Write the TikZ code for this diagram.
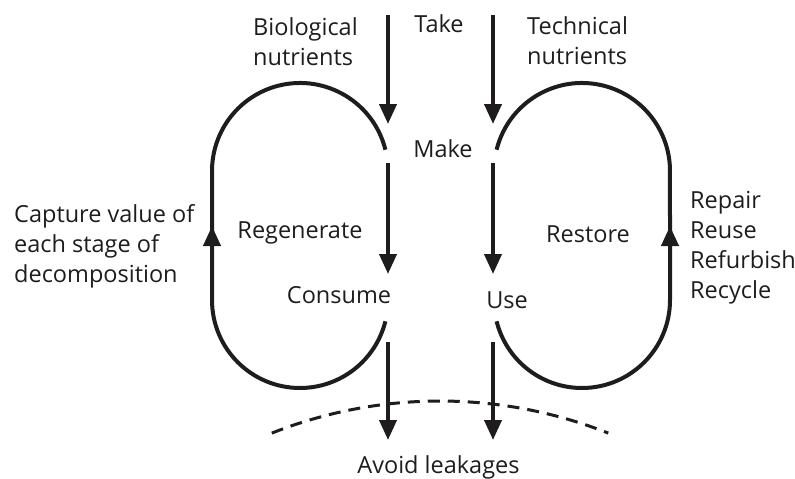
\documentclass[tikz,border=0pt]{standalone}
\usepackage{fontspec}
\setmainfont{Open Sans}
\usetikzlibrary{arrows.meta}
\definecolor{ink}{RGB}{30,28,28}
\begin{document}
\begin{tikzpicture}[x=1pt,y=-1pt,
  txt/.style={inner sep=0pt,text=ink,font=\fontsize{23.5}{30}\selectfont},
  flow/.style={draw=ink,line width=4pt,-{Triangle[length=20pt,width=17pt]}},
  loopline/.style={draw=ink,line width=4pt},
  sidearrow/.style={draw=ink,line width=4pt,-{Triangle[length=20pt,width=17pt]}},
  leak/.style={draw=ink,line width=3pt,dash pattern=on 12pt off 8pt}]
\useasboundingbox (0,0) rectangle (795,479);
% texts
\node[txt,anchor=base] (take) at (439,32) {Take};
\node[txt,anchor=base west] (bio) at (253,35) {\begin{tabular}[t]{@{}l@{}}Biological\\nutrients\end{tabular}};
\node[txt,anchor=base west] (tech) at (527,34) {\begin{tabular}[t]{@{}l@{}}Technical\\nutrients\end{tabular}};
\node[txt,anchor=base] (make) at (443,157) {Make};
\node[txt,anchor=base] (regen) at (300,238) {Regenerate};
\node[txt,anchor=base] (restore) at (588,242) {Restore};
\node[txt,anchor=base] (consume) at (339,303) {Consume};
\node[txt,anchor=base] (use) at (507,308) {Use};
\node[txt,anchor=base west] (capture) at (14,222) {\begin{tabular}[t]{@{}l@{}}Capture value of\\each stage of\\decomposition\end{tabular}};
\node[txt,anchor=base west] (repair) at (690,208) {\begin{tabular}[t]{@{}l@{}}Repair\\Reuse\\Refurbish\\Recycle\end{tabular}};
\node[txt,anchor=base] (avoid) at (438.5,473) {Avoid leakages};
% coordinates for flows
\coordinate (l1s) at (388,15);  \coordinate (l1e) at (388,124);
\coordinate (l2s) at (388,163); \coordinate (l2e) at (388,274);
\coordinate (l3s) at (388,342); \coordinate (l3e) at (388,440);
\coordinate (r1s) at (493,15);  \coordinate (r1e) at (493,124);
\coordinate (r2s) at (493,163); \coordinate (r2e) at (493,274);
\coordinate (r3s) at (493,342); \coordinate (r3e) at (493,440);
\draw[flow] (l1s) -- (l1e);
\draw[flow] (l2s) -- (l2e);
\draw[flow] (l3s) -- (l3e);
\draw[flow] (r1s) -- (r1e);
\draw[flow] (r2s) -- (r2e);
\draw[flow] (r3s) -- (r3e);
% loops
\coordinate (lt) at (385.4,149.7);
\coordinate (lside) at (212,300);
\coordinate (rt) at (496.6,149.7);
\coordinate (rside) at (670,300);
\draw[loopline] (lt) arc[start angle=-14,end angle=-180,radius=88] -- (lside)
  arc[start angle=180,end angle=14,radius=88];
\draw[loopline] (rt) arc[start angle=-166,end angle=0,radius=88] -- (rside)
  arc[start angle=0,end angle=166,radius=88];
\coordinate (la) at (212,262); \coordinate (lb) at (212,226);
\coordinate (ra) at (670,262); \coordinate (rb) at (670,226);
\draw[sidearrow] (la) -- (lb);
\draw[sidearrow] (ra) -- (rb);
% leakage boundary
\coordinate (dl) at (271.8,433.1);
\draw[leak] (dl) arc[start angle=-111.6,end angle=-68.4,radius=457];
\end{tikzpicture}
\end{document}
